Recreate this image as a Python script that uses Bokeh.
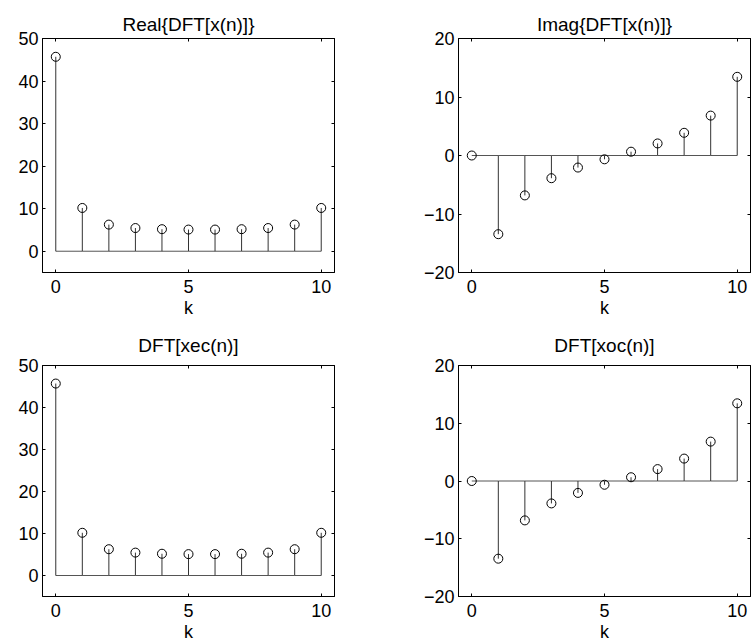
from bokeh.plotting import figure
from bokeh.layouts import column, row
from bokeh.models import FixedTicker, LinearAxis, Range1d, CustomJSTickFormatter
from bokeh.embed import file_html
from bokeh.resources import INLINE

k = [0, 1, 2, 3, 4, 5, 6, 7, 8, 9, 10]
real_x = [45.70, 10.17, 6.26, 5.45, 5.18, 5.09, 5.09, 5.18, 5.45, 6.26, 10.17]
imag_x = [0.0, -13.45, -6.82, -3.88, -2.06, -0.65, 0.65, 2.06, 3.88, 6.82, 13.45]
dft_xec = [45.70, 10.17, 6.26, 5.45, 5.18, 5.09, 5.09, 5.18, 5.45, 6.26, 10.17]
dft_xoc = [0.0, -13.45, -6.82, -3.88, -2.06, -0.65, 0.65, 2.06, 3.88, 6.82, 13.45]

titles = ["Real{DFT[x(n)]}", "Imag{DFT[x(n)]}", "DFT[xec(n)]", "DFT[xoc(n)]"]
x_ticks = [0, 5, 10]
y_ticks_real = [0, 10, 20, 30, 40, 50]
y_ticks_imag = [-20, -10, 0, 10, 20]

FONT = "Liberation Sans"
FS = "18px"
TFS = "19px"


def make(title, vals, yr, yticks, width, height, bl, br, bt, bb, spacer):
    p = figure(width=width, height=height, output_backend="svg", toolbar_location=None,
               x_range=Range1d(-0.5, 10.5), y_range=Range1d(*yr),
               min_border_left=bl, min_border_right=br, min_border_top=bt, min_border_bottom=bb)
    p.title.text = title
    p.title.align = "center"
    p.title.text_font = FONT
    p.title.text_font_size = TFS
    p.title.text_font_style = "normal"
    p.title.text_color = "black"
    p.title.standoff = 8
    p.grid.visible = False
    p.outline_line_color = "black"
    p.outline_line_alpha = 1.0
    p.background_fill_color = "white"
    p.border_fill_color = "white"

    # extra box axes (ticks only)
    p.add_layout(LinearAxis(), "right")
    p.add_layout(LinearAxis(), "above")
    for ax in p.axis:
        ax.major_tick_in = 3
        ax.major_tick_out = 0
        ax.minor_tick_in = 0
        ax.minor_tick_out = 0
        ax.axis_line_color = "black"
        ax.major_tick_line_color = "black"
        ax.major_label_text_font = FONT
        ax.major_label_text_font_size = FS
        ax.major_label_text_color = "black"
        ax.axis_label_text_font = FONT
        ax.axis_label_text_font_size = FS
        ax.axis_label_text_font_style = "normal"
        ax.axis_label_text_color = "black"
    bottom = p.below[0]
    left = p.left[0]
    for ax in (bottom, p.above[0]):
        ax.ticker = FixedTicker(ticks=x_ticks)
    for ax in (left, p.right[0]):
        ax.ticker = FixedTicker(ticks=yticks)
    left.major_label_overrides = {t: ("\u2212" + str(-t)) for t in yticks if t < 0}
    bottom.axis_label = "k"
    bottom.major_label_standoff = 7
    bottom.axis_label_standoff = 2
    left.major_label_standoff = 4
    for ax in (p.right[0], p.above[0]):
        ax.formatter = CustomJSTickFormatter(code="return '';")
        ax.major_label_standoff = 0
        ax.axis_label = None

    if spacer > 0:
        # invisible spacer between the frame and the title
        sp = LinearAxis(ticker=FixedTicker(ticks=x_ticks),
                        formatter=CustomJSTickFormatter(code="return '';"),
                        major_tick_in=0, major_tick_out=spacer, minor_tick_in=0, minor_tick_out=0,
                        major_label_standoff=0, axis_line_color=None, major_tick_line_alpha=0)
        p.add_layout(sp, "above")

    zeros = [0.0] * len(k)
    p.line(k, zeros, line_color="#555555", line_width=1)
    p.segment(x0=k, y0=zeros, x1=k, y1=vals, line_color="#333333", line_width=1)
    p.scatter(k, vals, size=9, marker="circle", fill_color=None, line_color="black", line_width=1)
    return p


p1 = make(titles[0], real_x, (-5, 50), y_ticks_real, 376, 322, 42, 42, 38, 50, 0)
p2 = make(titles[1], imag_x, (-20, 20), y_ticks_imag, 375, 322, 82, 1, 38, 50, 0)
p3 = make(titles[2], dft_xec, (-5, 50), y_ticks_real, 376, 322, 42, 42, 43, 46, 6)
p4 = make(titles[3], dft_xoc, (-20, 20), y_ticks_imag, 375, 322, 82, 1, 43, 46, 6)

layout = column(row(p1, p2), row(p3, p4))
open("out.html", "w").write(file_html(layout, INLINE))
